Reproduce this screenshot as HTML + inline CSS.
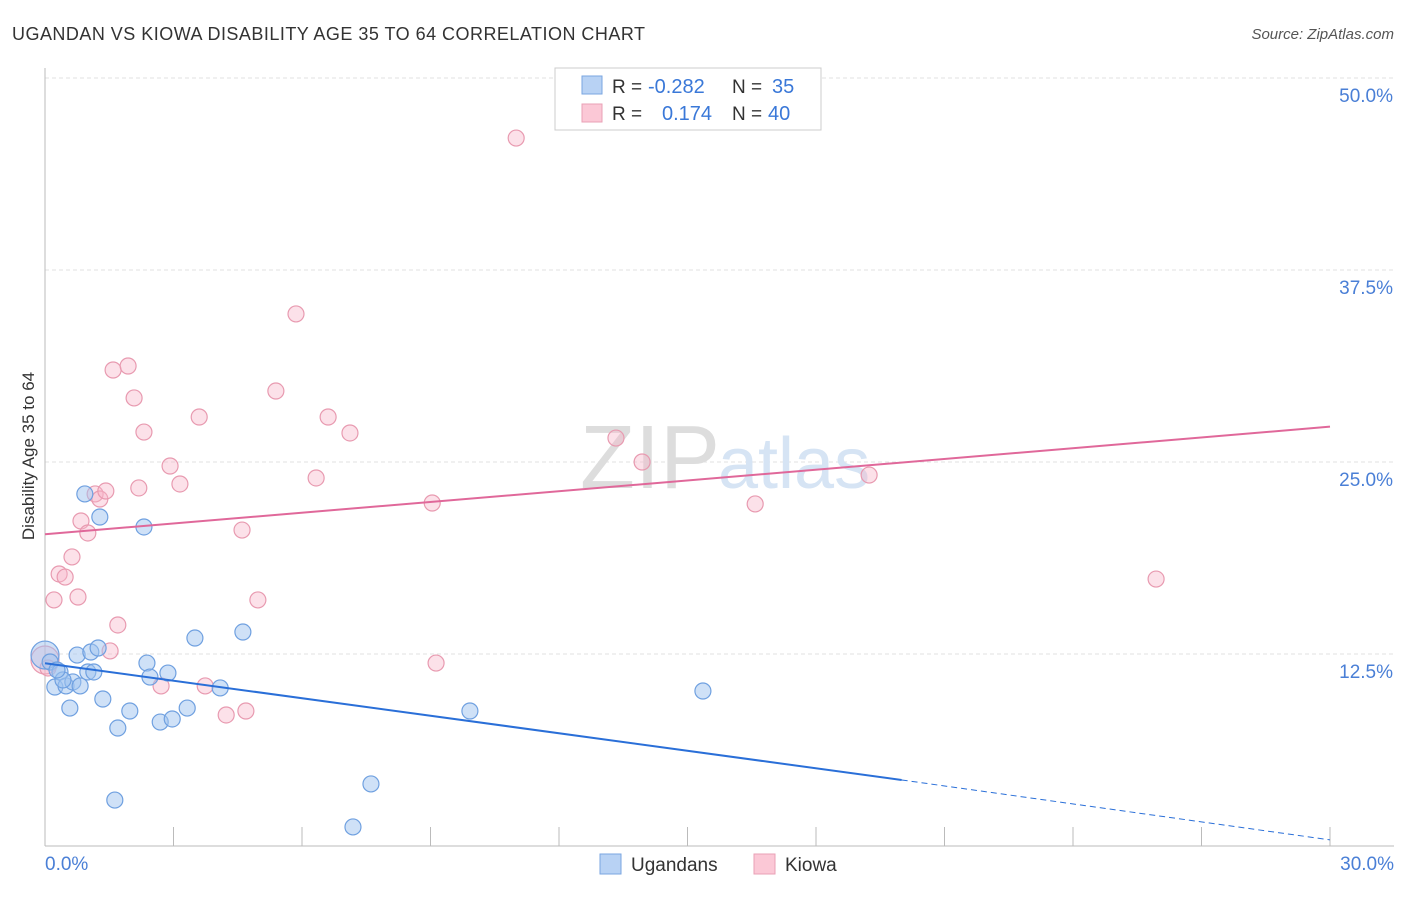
<!DOCTYPE html>
<html><head><meta charset="utf-8"><style>
body{margin:0;background:#fff;font-family:"Liberation Sans",sans-serif}
svg text{font-family:"Liberation Sans",sans-serif}
</style></head><body>
<svg id="c" width="1406" height="892">
<text x="12" y="40" font-size="18" fill="#333" textLength="633">UGANDAN VS KIOWA DISABILITY AGE 35 TO 64 CORRELATION CHART</text>
<text x="1394" y="39" font-size="15" fill="#555" font-style="italic" text-anchor="end">Source: ZipAtlas.com</text>
<g id="grid"></g>
<text x="720" y="488" font-size="90" fill="#ddd" text-anchor="end" font-family="Liberation Serif">ZIP</text>
<text x="718" y="488" font-size="72" fill="#d6e4f4">atlas</text>
<g id="pts"></g>
<g id="lines"></g>
<text transform="translate(34,456) rotate(-90)" font-size="17" fill="#333" text-anchor="middle">Disability Age 35 to 64</text>
<text x="45" y="870" font-size="19" fill="#4a7fd6">0.0%</text>
<text x="1394" y="870" font-size="19" fill="#4a7fd6" text-anchor="end">30.0%</text>
<g>
<rect x="555" y="68" width="266" height="62" fill="#fff" stroke="#ccc"/>
<rect x="582" y="76" width="20" height="18" fill="#b8d2f4" stroke="#7aa6e0"/>
<rect x="582" y="104" width="20" height="18" fill="#fbc8d6" stroke="#eaa0b6"/>
<text x="612" y="93" font-size="19" fill="#333">R =</text>
<text x="648" y="93" font-size="20" fill="#3a78d8">-0.282</text>
<text x="732" y="93" font-size="19" fill="#333">N =</text>
<text x="772" y="93" font-size="20" fill="#3a78d8">35</text>
<text x="612" y="120" font-size="19" fill="#333">R =</text>
<text x="662" y="120" font-size="20" fill="#3a78d8">0.174</text>
<text x="732" y="120" font-size="19" fill="#333">N =</text>
<text x="768" y="120" font-size="20" fill="#3a78d8">40</text>
</g>
<g>
<rect x="600" y="854" width="21" height="20" fill="#b8d2f4" stroke="#7aa6e0"/>
<text x="631" y="871" font-size="19" fill="#333">Ugandans</text>
<rect x="754" y="854" width="21" height="20" fill="#fbc8d6" stroke="#eaa0b6"/>
<text x="785" y="871" font-size="19" fill="#333">Kiowa</text>
</g>
</svg>
<script>
const yTicks=[12.5,25,37.5,50];
const yTickLabels=["12.5%","25.0%","37.5%","50.0%"];
const blueX=[0,0.12,0.23,0.35,0.49,0.58,0.65,0.75,0.82,0.93,1.0,1.07,1.14,1.24,1.28,1.35,1.70,1.63,1.98,2.31,2.38,2.45,2.69,2.87,2.97,3.32,3.50,4.09,4.62,7.19,7.61,9.92,15.36,0.42,0.28];
const blueY=[12.43,11.98,10.35,11.33,10.42,8.98,10.68,12.43,10.42,22.92,11.33,12.63,11.33,12.89,21.42,9.57,7.68,2.99,8.79,20.77,11.91,11.0,8.07,11.26,8.27,8.98,13.54,10.29,13.93,1.24,4.04,8.79,10.09,10.81,11.46];
const pinkX=[0,0.07,0.21,0.33,0.47,0.63,0.77,0.84,1.0,1.17,1.28,1.42,1.52,1.59,1.70,1.94,2.08,2.19,2.31,2.71,2.92,3.15,3.60,3.74,4.23,4.60,4.69,4.97,5.39,5.86,6.33,6.61,7.12,9.04,9.13,11.0,13.33,13.94,16.58,19.24,25.94];
const pinkY=[12.11,11.59,16.02,17.71,17.51,18.82,16.21,21.16,20.38,22.92,22.59,23.11,12.70,30.99,14.39,31.25,29.17,23.31,26.95,10.42,24.74,23.57,27.93,10.42,8.53,20.57,8.79,16.02,29.62,34.64,23.96,27.93,26.89,22.33,11.91,46.09,26.56,25.0,22.27,24.15,17.38];
const blueTrend=[[0,11.9],[20,4.3],[30,0.4]];
const pinkTrend=[[0,20.3],[30,27.3]];
const NS="http://www.w3.org/2000/svg";
const X=v=>45+v/30*1285, Y=v=>846-v*15.36;
function mk(t,a,p){const e=document.createElementNS(NS,t);for(const k in a)e.setAttribute(k,a[k]);p.appendChild(e);return e;}
const g=document.getElementById('grid');
yTicks.forEach((t,i)=>{
 const l=mk('line',{x1:45,x2:1394,y1:Y(t),y2:Y(t),stroke:'#e2e2e2','stroke-dasharray':'4,3'},g);
 
 
 const tx=mk('text',{x:1393,y:Y(t)+24,'font-size':19,fill:'#4a7fd6','text-anchor':'end'},g);
 tx.textContent=yTickLabels[i];
 
 
});
mk('line',{x1:45,x2:45,y1:68,y2:846,stroke:'#bbb'},g);
mk('line',{x1:45,x2:1394,y1:846,y2:846,stroke:'#bbb'},g);
for(let i=0;i<=10;i++){const t=mk('line',{x1:X(i*3),x2:X(i*3),y1:827,y2:846,stroke:'#bbb'},g);
 
 }
const P=document.getElementById('pts');
function dots(xs,ys,fill,stroke,name){xs.forEach((x,i)=>{
 const c=mk('circle',{cx:X(x),cy:Y(ys[i]),r:(i==0?14:8),fill:fill,stroke:stroke,'stroke-width':1.2},P);
 
 });}
dots(pinkX,pinkY,'rgba(248,180,200,0.4)','#e89ab0','kiowa-point');
dots(blueX,blueY,'rgba(160,196,240,0.5)','#6fa0e0','ugandan-point');
const L=document.getElementById('lines');
const b1=mk('line',{x1:X(blueTrend[0][0]),y1:Y(blueTrend[0][1]),x2:X(blueTrend[1][0]),y2:Y(blueTrend[1][1]),stroke:'#2a6fd8','stroke-width':2},L);


const b2=mk('line',{x1:X(blueTrend[1][0]),y1:Y(blueTrend[1][1]),x2:X(blueTrend[2][0]),y2:Y(blueTrend[2][1]),stroke:'#2a6fd8','stroke-width':1,'stroke-dasharray':'6,4'},L);


const p1=mk('line',{x1:X(pinkTrend[0][0]),y1:Y(pinkTrend[0][1]),x2:X(pinkTrend[1][0]),y2:Y(pinkTrend[1][1]),stroke:'#e0689a','stroke-width':2},L);


</script>
</body></html>
